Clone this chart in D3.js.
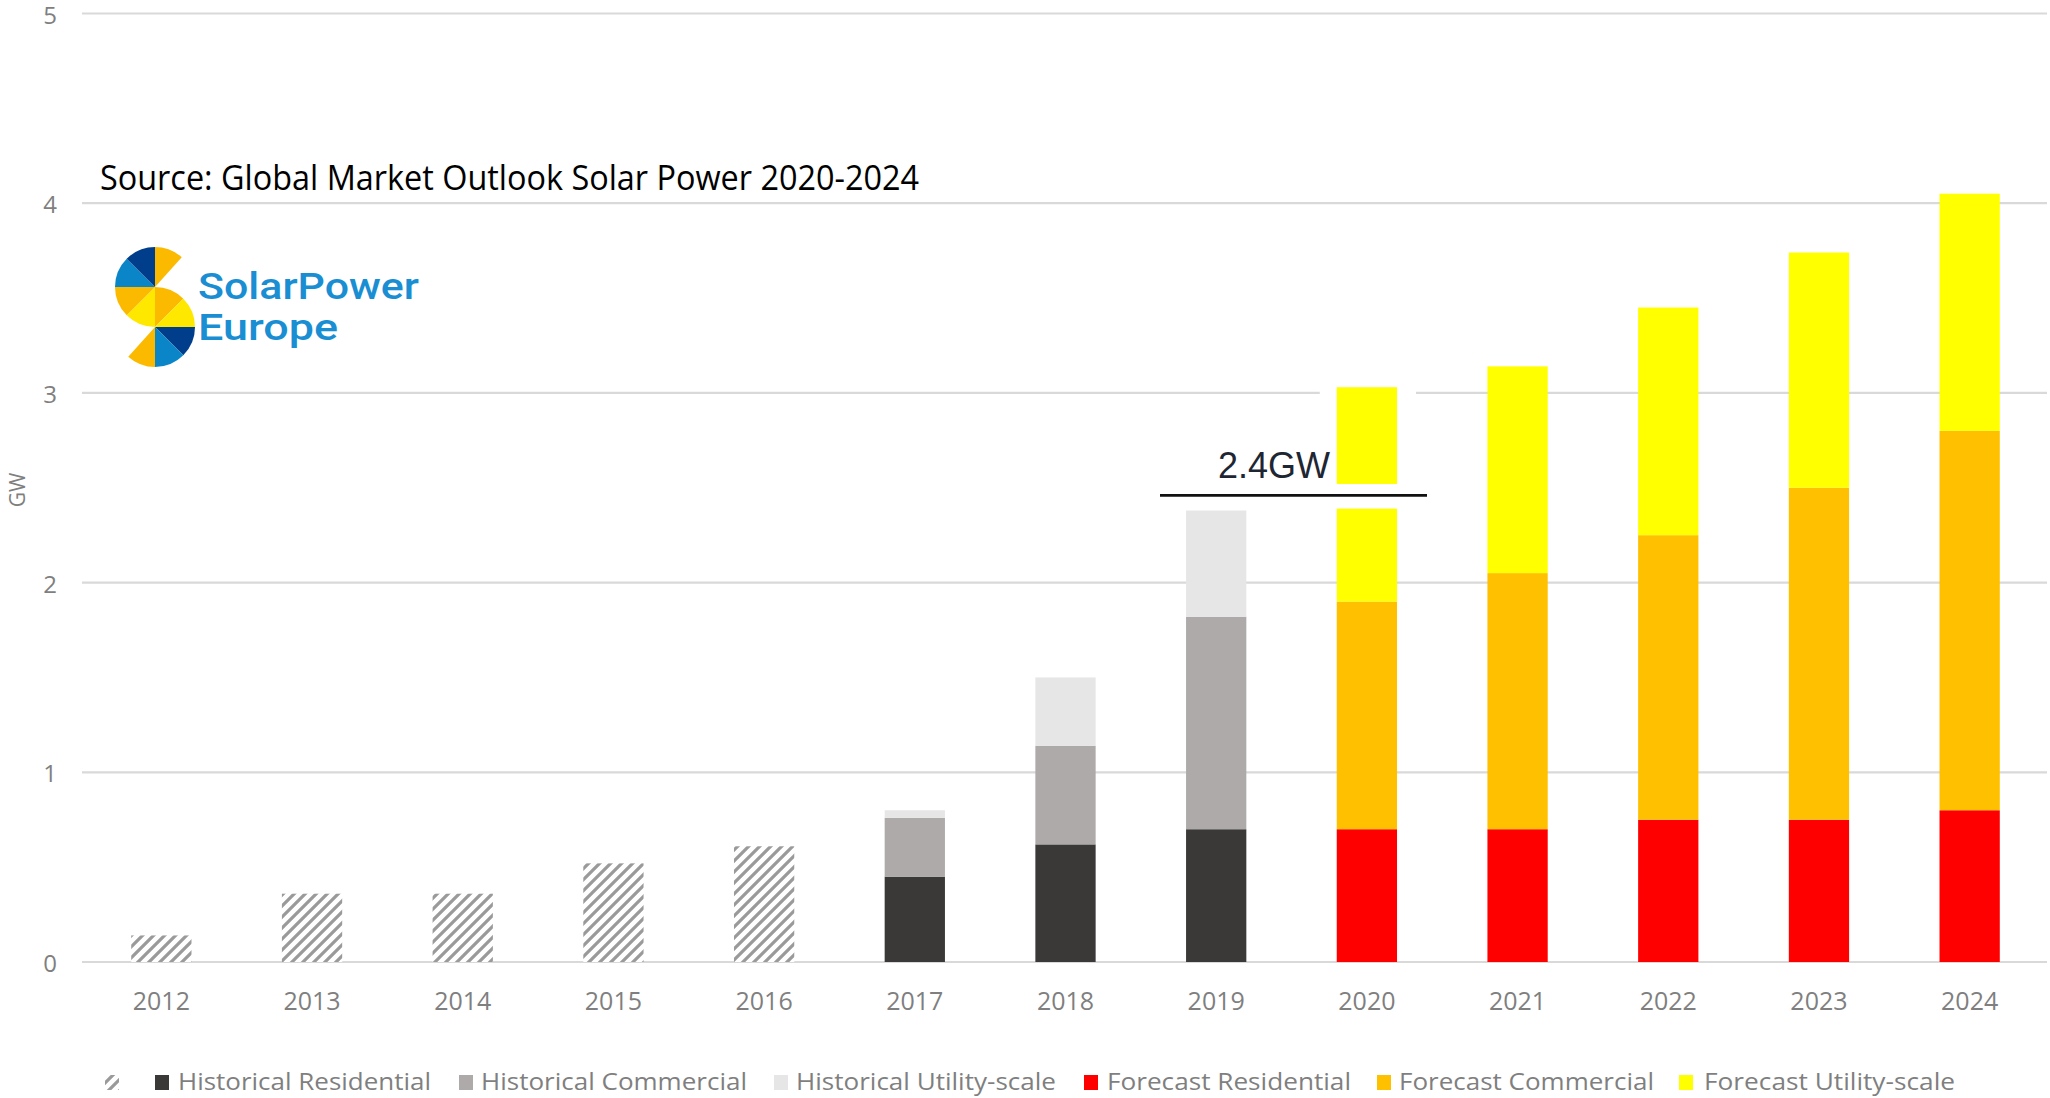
<!DOCTYPE html>
<html>
<head>
<meta charset="utf-8">
<script src="https://cdnjs.cloudflare.com/ajax/libs/d3/7.8.5/d3.min.js"></script>
<style>
  html, body { margin: 0; padding: 0; background: #fff; }
  svg { display: block; }
</style>
</head>
<body>
<svg id="chart" width="2050" height="1098"></svg>
<script>
// Annual installed capacity (GW), historical and forecast
const years = ["2012","2013","2014","2015","2016","2017","2018","2019","2020","2021","2022","2023","2024"];
const historicalTotal      = [0.14, 0.36, 0.36, 0.52, 0.61, 0, 0, 0, 0, 0, 0, 0, 0];
const historicalResidential = [0, 0, 0, 0, 0, 0.45, 0.62, 0.70, 0, 0, 0, 0, 0];
const historicalCommercial  = [0, 0, 0, 0, 0, 0.31, 0.52, 1.12, 0, 0, 0, 0, 0];
const historicalUtility     = [0, 0, 0, 0, 0, 0.04, 0.36, 0.56, 0, 0, 0, 0, 0];
const forecastResidential   = [0, 0, 0, 0, 0, 0, 0, 0, 0.70, 0.70, 0.75, 0.75, 0.80];
const forecastCommercial    = [0, 0, 0, 0, 0, 0, 0, 0, 1.20, 1.35, 1.50, 1.75, 2.00];
const forecastUtility       = [0, 0, 0, 0, 0, 0, 0, 0, 1.13, 1.09, 1.20, 1.24, 1.25];
const yTicks = [0, 1, 2, 3, 4, 5];

const seriesNames = ["Historical Total", "Historical Residential", "Historical Commercial",
  "Historical Utility-scale", "Forecast Residential", "Forecast Commercial", "Forecast Utility-scale"];
const seriesValues = [historicalTotal, historicalResidential, historicalCommercial,
  historicalUtility, forecastResidential, forecastCommercial, forecastUtility];
const seriesColors = ["url(#hatch)", "#3b3838", "#aeaaaa", "#e7e6e6", "#ff0000", "#ffc000", "#ffff00"];

const rows = years.map((yr, i) => {
  const r = { year: yr };
  seriesNames.forEach((n, k) => r[n] = seriesValues[k][i]);
  return r;
});

const svg = d3.select("#chart");
const defs = svg.append("defs");

// diagonal hatching for years without a segment split
const pat = defs.append("pattern")
  .attr("id", "hatch").attr("patternUnits", "userSpaceOnUse")
  .attr("width", 11).attr("height", 11);
pat.append("rect").attr("width", 11).attr("height", 11).attr("fill", "#fff");
pat.append("path")
  .attr("d", "M-3,3 l6,-6 M0,11 l11,-11 M8,14 l6,-6")
  .attr("stroke", "#9a9a9a").attr("stroke-width", 3.2);

const x = d3.scaleBand().domain(years).range([86, 2045]).paddingInner(0.6).paddingOuter(0.3);
const y = d3.scaleLinear().domain([0, 5]).range([962, 13.5]);

const gray = "#7f7f7f";
const axisFont = "'Open Sans', 'Noto Sans', sans-serif";

// gridlines
svg.append("g").selectAll("line").data(yTicks).join("line")
  .attr("x1", 82).attr("x2", 2047)
  .attr("y1", d => y(d)).attr("y2", d => y(d))
  .attr("stroke", "#d9d9d9").attr("stroke-width", 2.2);

// y tick labels
const yAxis = d3.axisLeft(y).tickValues(yTicks).tickSize(0).tickPadding(0).tickFormat(d3.format("d"));
svg.append("g").attr("transform", "translate(57,0)").call(yAxis)
  .call(g => g.select(".domain").remove())
  .call(g => g.selectAll("text").attr("fill", gray).attr("font-family", axisFont)
    .attr("font-size", 24).attr("dy", "0.4em"));

// y axis title
svg.append("text")
  .attr("transform", "translate(25,490) rotate(-90)")
  .attr("text-anchor", "middle").attr("fill", gray)
  .attr("font-family", axisFont).attr("font-size", 21).text("GW");

// x axis labels
const xAxis = d3.axisBottom(x).tickSize(0).tickPadding(0);
svg.append("g").attr("transform", "translate(0,992)").call(xAxis)
  .call(g => g.select(".domain").remove())
  .call(g => g.selectAll("text").attr("fill", gray).attr("font-family", axisFont)
    .attr("font-size", 25).attr("dy", "0.71em"));

// white margin around the top of the 2020 column
const yr2020 = "2020";
svg.append("rect")
  .attr("x", x(yr2020) - 17).attr("width", x.bandwidth() + 36)
  .attr("y", y(3.06)).attr("height", y(2.9) - y(3.06))
  .attr("fill", "#fff");

// stacked bars
const stack = d3.stack().keys(seriesNames);
const stacked = stack(rows);
svg.append("g").selectAll("g").data(stacked).join("g")
  .attr("fill", (d, i) => seriesColors[i])
  .selectAll("rect").data(d => d.filter(s => s[1] - s[0] > 0)).join("rect")
  .attr("x", d => x(d.data.year))
  .attr("width", x.bandwidth())
  .attr("y", d => y(d[1]))
  .attr("height", d => y(d[0]) - y(d[1]));

// 2019 total annotation
const idx2019 = years.indexOf("2019");
const total2019 = historicalResidential[idx2019] + historicalCommercial[idx2019] + historicalUtility[idx2019];
const markLevel = total2019 + 0.08;
svg.append("rect")
  .attr("x", x(yr2020) - 2).attr("width", x.bandwidth() + 4)
  .attr("y", y(2.52)).attr("height", y(2.39) - y(2.52))
  .attr("fill", "#fff");
svg.append("line")
  .attr("x1", 1160).attr("x2", 1427)
  .attr("y1", y(markLevel)).attr("y2", y(markLevel))
  .attr("stroke", "#111").attr("stroke-width", 2.6);
svg.append("text")
  .attr("x", 1218).attr("y", y(markLevel) - 17)
  .attr("font-family", "'Liberation Sans', Arial, sans-serif").attr("font-size", 36)
  .attr("fill", "#1e2633")
  .text(d3.format(".1f")(total2019) + "GW");

// source line
svg.append("text")
  .attr("x", 100).attr("y", 190)
  .attr("font-family", "'Open Sans', 'Noto Sans', sans-serif").attr("font-size", 35)
  .attr("textLength", 819).attr("lengthAdjust", "spacingAndGlyphs")
  .attr("fill", "#000")
  .text("Source: Global Market Outlook Solar Power 2020-2024");

// SolarPower Europe logo
const logo = svg.append("g");
const navy = "#003e8c", blue = "#0a86c8", sun = "#ffe800", amber = "#fbba00";
const deg = Math.PI / 180;
const arc = d3.arc().innerRadius(0).outerRadius(40);
const wedges = [
  { cx: 155, cy: 287, a0: 0, a1: 42, c: amber },
  { cx: 155, cy: 287, a0: 180, a1: 225, c: sun },
  { cx: 155, cy: 287, a0: 225, a1: 270, c: amber },
  { cx: 155, cy: 287, a0: 270, a1: 315, c: blue },
  { cx: 155, cy: 287, a0: 315, a1: 360, c: navy },
  { cx: 155, cy: 327, a0: 0, a1: 45, c: amber },
  { cx: 155, cy: 327, a0: 45, a1: 90, c: sun },
  { cx: 155, cy: 327, a0: 90, a1: 135, c: navy },
  { cx: 155, cy: 327, a0: 135, a1: 180, c: blue },
  { cx: 155, cy: 327, a0: 180, a1: 222, c: amber }
];
logo.selectAll("path").data(wedges).join("path")
  .attr("transform", d => `translate(${d.cx},${d.cy})`)
  .attr("d", d => arc({ startAngle: d.a0 * deg, endAngle: d.a1 * deg }))
  .attr("fill", d => d.c);
const logoFont = "Roboto, 'Open Sans', sans-serif";
logo.append("text").attr("x", 198).attr("y", 299)
  .attr("font-family", logoFont).attr("font-weight", 500).attr("font-size", 37)
  .attr("textLength", 221).attr("lengthAdjust", "spacingAndGlyphs")
  .attr("fill", "#1a8ed3").text("SolarPower");
logo.append("text").attr("x", 198).attr("y", 340)
  .attr("font-family", logoFont).attr("font-weight", 500).attr("font-size", 37)
  .attr("textLength", 140).attr("lengthAdjust", "spacingAndGlyphs")
  .attr("fill", "#1a8ed3").text("Europe");

// legend
const legendItems = [
  { sw: 105, tx: null, tl: 0, c: "url(#hatch)", label: "" },
  { sw: 155, tx: 178, tl: 253, c: "#3b3838", label: "Historical Residential" },
  { sw: 459, tx: 481, tl: 266, c: "#aeaaaa", label: "Historical Commercial" },
  { sw: 774, tx: 796, tl: 260, c: "#e7e6e6", label: "Historical Utility-scale" },
  { sw: 1084, tx: 1107, tl: 244, c: "#ff0000", label: "Forecast Residential" },
  { sw: 1377, tx: 1399, tl: 255, c: "#ffc000", label: "Forecast Commercial" },
  { sw: 1679, tx: 1704, tl: 251, c: "#ffff00", label: "Forecast Utility-scale" }
];
const lg = svg.append("g");
lg.selectAll("rect").data(legendItems).join("rect")
  .attr("x", d => d.sw).attr("y", 1075).attr("width", 14).attr("height", 15)
  .attr("fill", d => d.c);
lg.selectAll("text").data(legendItems.filter(d => d.label)).join("text")
  .attr("x", d => d.tx).attr("y", 1090)
  .attr("font-family", axisFont).attr("font-size", 23)
  .attr("textLength", d => d.tl).attr("lengthAdjust", "spacingAndGlyphs")
  .attr("fill", gray).text(d => d.label);
</script>
</body>
</html>
